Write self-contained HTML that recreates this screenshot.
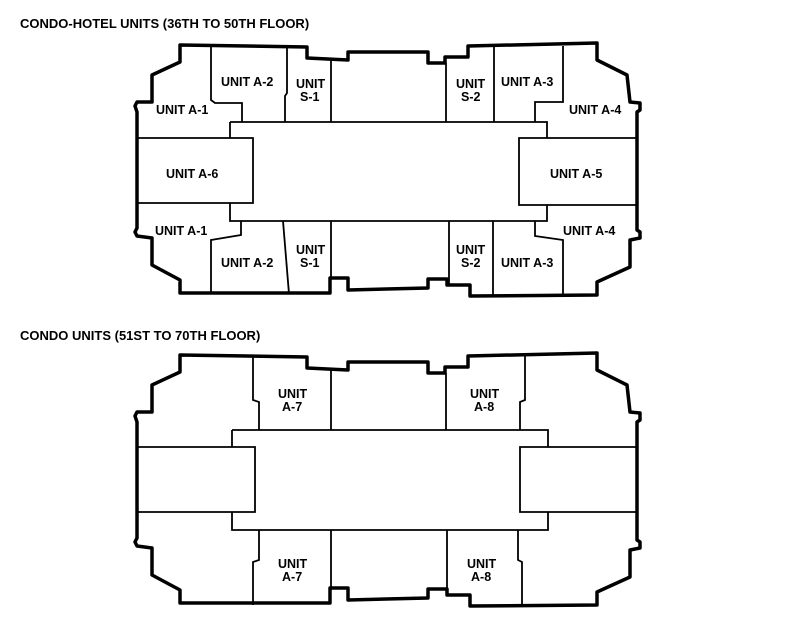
<!DOCTYPE html>
<html><head><style>
html,body{margin:0;padding:0;background:#fff;width:800px;height:624px;overflow:hidden}
svg text{font-family:"Liberation Sans",Arial,sans-serif;font-weight:bold;font-size:12.5px;fill:#000}
</style></head><body>
<svg width="800" height="624" viewBox="0 0 800 624" xmlns="http://www.w3.org/2000/svg">
<defs>
<g id="outline">
<path d="M180,45 L307,47 L307,58 L348,60 L348,52 L428,52 L428,63 L445,63 L445,57 L468,57 L468,46 L597,43 L597,60 L627,75 L630,102 L640,103 L640,110 L637,112 L637,230 L640,232 L640,238 L630,240 L630,267 L597,282 L597,295 L470,296 L470,285 L447,285 L447,279 L428,279 L428,288 L348,290 L348,278 L330,278 L330,293 L180,293 L180,280 L152,265 L152,238 L137,236 L135,232 L137,228 L137,112 L135,106 L137,102 L152,102 L152,75 L180,62 Z" fill="none" stroke="#000" stroke-width="3.5" stroke-linejoin="round"/>
</g>
</defs>
<text x="20" y="28" style="font-size:13px">CONDO-HOTEL UNITS (36TH TO 50TH FLOOR)</text>
<text x="20" y="340" style="font-size:13px">CONDO UNITS (51ST TO 70TH FLOOR)</text>

<!-- Plan 1 -->
<use href="#outline"/>
<g fill="none" stroke="#000" stroke-width="1.8">
<path d="M230,122 L547,122 L547,138 M230,122 L230,138 M137,138 L253,138 L253,203 L137,203 M230,203 L230,221 L547,221 L547,205 M637,138 L519,138 L519,205 L637,205"/>
<path d="M211,47 L211,100 L215,103 L242,103 L242,122"/>
<path d="M287,47 L287,93 L285,96 L285,122"/>
<path d="M331,60 L331,122"/>
<path d="M446,63 L446,122"/>
<path d="M494,46 L494,122"/>
<path d="M563,46 L563,102 L535,102 L535,122"/>
<path d="M241,221 L241,235 L211,240 L211,294"/>
<path d="M283,221 L289,294"/>
<path d="M331,221 L331,278"/>
<path d="M449,221 L449,285"/>
<path d="M493,221 L493,296"/>
<path d="M535,221 L535,236 L563,240 L563,296"/>
</g>
<text x="221" y="86">UNIT A-2</text>
<text x="296" y="88">UNIT</text><text x="300" y="101">S-1</text>
<text x="156" y="114">UNIT A-1</text>
<text x="166" y="178">UNIT A-6</text>
<text x="155" y="235">UNIT A-1</text>
<text x="221" y="267">UNIT A-2</text>
<text x="296" y="254">UNIT</text><text x="300" y="267">S-1</text>
<text x="456" y="88">UNIT</text><text x="461" y="101">S-2</text>
<text x="501" y="86">UNIT A-3</text>
<text x="569" y="114">UNIT A-4</text>
<text x="550" y="178">UNIT A-5</text>
<text x="563" y="235">UNIT A-4</text>
<text x="501" y="267">UNIT A-3</text>
<text x="456" y="254">UNIT</text><text x="461" y="267">S-2</text>

<!-- Plan 2 -->
<use href="#outline" transform="translate(0,310)"/>
<g fill="none" stroke="#000" stroke-width="1.8">
<path d="M232,430 L548,430 L548,447 M232,430 L232,447 M137,447 L255,447 L255,512 L137,512 M232,512 L232,530 L548,530 L548,512 M637,447 L520,447 L520,512 L637,512"/>
<path d="M253,357 L253,400 L259,402 L259,430"/>
<path d="M331,370 L331,430"/>
<path d="M446,373 L446,430"/>
<path d="M525,356 L525,400 L520,402 L520,430"/>
<path d="M259,530 L259,560 L253,562 L253,605"/>
<path d="M331,530 L331,590"/>
<path d="M447,530 L447,595"/>
<path d="M518,530 L518,560 L522,562 L522,605"/>
</g>
<text x="278" y="398">UNIT</text><text x="282" y="411">A-7</text>
<text x="470" y="398">UNIT</text><text x="474" y="411">A-8</text>
<text x="278" y="568">UNIT</text><text x="282" y="581">A-7</text>
<text x="467" y="568">UNIT</text><text x="471" y="581">A-8</text>
</svg>
</body></html>
